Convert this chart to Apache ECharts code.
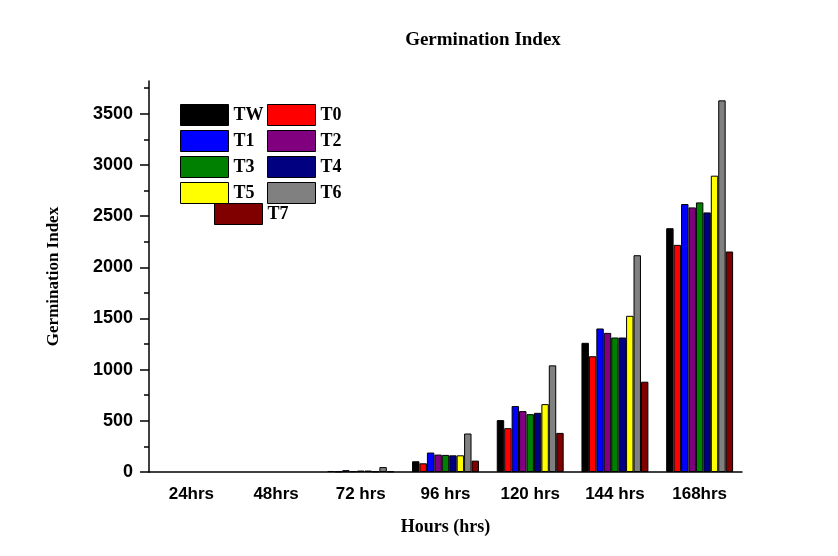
<!DOCTYPE html>
<html>
<head>
<meta charset="utf-8">
<title>Germination Index</title>
<script src="https://cdn.jsdelivr.net/npm/echarts@6/dist/echarts.min.js"></script>
<style>
  html, body { margin: 0; padding: 0; background: #fff; }
  #chart { width: 838px; height: 556px; }
</style>
</head>
<body>
<div id="chart"></div>
<script>
// Sampling times
const categories = ['24hrs', '48hrs', '72 hrs', '96 hrs', '120 hrs', '144 hrs', '168hrs'];

// Germination index per treatment
const TW = [0, 0, 10, 105, 507, 1262, 2382];
const T0 = [0, 0, 5, 85, 428, 1131, 2219];
const T1 = [0, 0, 18, 190, 644, 1402, 2618];
const T2 = [0, 0, 8, 170, 595, 1359, 2585];
const T3 = [0, 0, 14, 167, 565, 1314, 2634];
const T4 = [0, 0, 14, 163, 578, 1314, 2536];
const T5 = [0, 0, 6, 163, 663, 1526, 2895];
const T6 = [0, 0, 48, 376, 1042, 2118, 3631];
const T7 = [0, 0, 6, 111, 382, 882, 2154];

// Y axis tick labels
const yMajorTicks = [0, 500, 1000, 1500, 2000, 2500, 3000, 3500];
const yMinorTicks = [250, 750, 1250, 1750, 2250, 2750, 3250, 3750];

const treatments = [
  { name: 'TW', data: TW, color: '#000000' },
  { name: 'T0', data: T0, color: '#ff0000' },
  { name: 'T1', data: T1, color: '#0000ff' },
  { name: 'T2', data: T2, color: '#800080' },
  { name: 'T3', data: T3, color: '#008000' },
  { name: 'T4', data: T4, color: '#000080' },
  { name: 'T5', data: T5, color: '#ffff00' },
  { name: 'T6', data: T6, color: '#808080' },
  { name: 'T7', data: T7, color: '#800000' }
];

const serifBold = { fontFamily: '"Liberation Serif", "Times New Roman", serif', fontWeight: 'bold', color: '#000' };
const sansBold = { fontFamily: '"Liberation Sans", Arial, sans-serif', fontWeight: 'bold', color: '#000' };

const legendBase = {
  orient: 'vertical',
  itemWidth: 48,
  itemHeight: 21,
  itemGap: 4,
  padding: 0,
  icon: 'rect',
  itemStyle: { borderColor: '#000', borderWidth: 1 },
  textStyle: Object.assign({ fontSize: 18 }, serifBold)
};

const chart = echarts.init(document.getElementById('chart'), null, { renderer: 'canvas' });

chart.setOption({
  backgroundColor: '#ffffff',
  animation: false,
  title: {
    text: 'Germination Index',
    left: 478,
    top: 26,
    textAlign: 'center',
    textStyle: Object.assign({ fontSize: 19 }, serifBold)
  },
  legend: [
    Object.assign({ left: 180, top: 104, data: ['TW', 'T1', 'T3', 'T5'] }, legendBase),
    Object.assign({ left: 267, top: 104, data: ['T0', 'T2', 'T4', 'T6'] }, legendBase),
    Object.assign({ left: 214, top: 203, data: ['T7'] }, legendBase)
  ],
  grid: { left: 149, right: 96, top: 81, bottom: 84, containLabel: false },
  xAxis: {
    type: 'category',
    data: categories,
    name: 'Hours (hrs)',
    nameLocation: 'middle',
    nameGap: 46,
    nameTextStyle: Object.assign({ fontSize: 18 }, serifBold),
    axisLine: { lineStyle: { color: '#000', width: 1.5 } },
    axisTick: { alignWithLabel: true, length: 7, lineStyle: { color: '#000', width: 1.5 } },
    axisLabel: Object.assign({ fontSize: 17, margin: 14 }, sansBold),
    splitLine: { show: false }
  },
  yAxis: [
    {
      type: 'value',
      min: 0,
      max: 3820,
      interval: 500,
      name: 'Germination Index',
      nameLocation: 'middle',
      nameGap: 87,
      nameTextStyle: Object.assign({ fontSize: 17 }, serifBold),
      axisLine: { show: true, lineStyle: { color: '#000', width: 1.5 } },
      axisTick: { show: true, length: 9, customValues: yMajorTicks, lineStyle: { color: '#000', width: 1.5 } },
      axisLabel: Object.assign({
        fontSize: 18, margin: 16, customValues: yMajorTicks,
        formatter: v => String(v)
      }, sansBold),
      splitLine: { show: false }
    },
    {
      // minor ticks only, drawn over the same scale
      type: 'value',
      position: 'left',
      min: 0,
      max: 3820,
      interval: 500,
      axisLine: { show: false },
      axisTick: { show: true, length: 5, customValues: yMinorTicks, lineStyle: { color: '#000', width: 1.5 } },
      axisLabel: { show: false },
      splitLine: { show: false }
    }
  ],
  series: treatments.map(t => ({
    name: t.name,
    type: 'bar',
    // zero readings leave no bar
    data: t.data.map(v => (v === 0 ? '-' : v)),
    yAxisIndex: 0,
    barGap: '0%',
    barCategoryGap: '21%',
    itemStyle: { color: t.color, borderColor: '#000', borderWidth: 1 },
    emphasis: { disabled: true }
  }))
});
</script>
</body>
</html>
